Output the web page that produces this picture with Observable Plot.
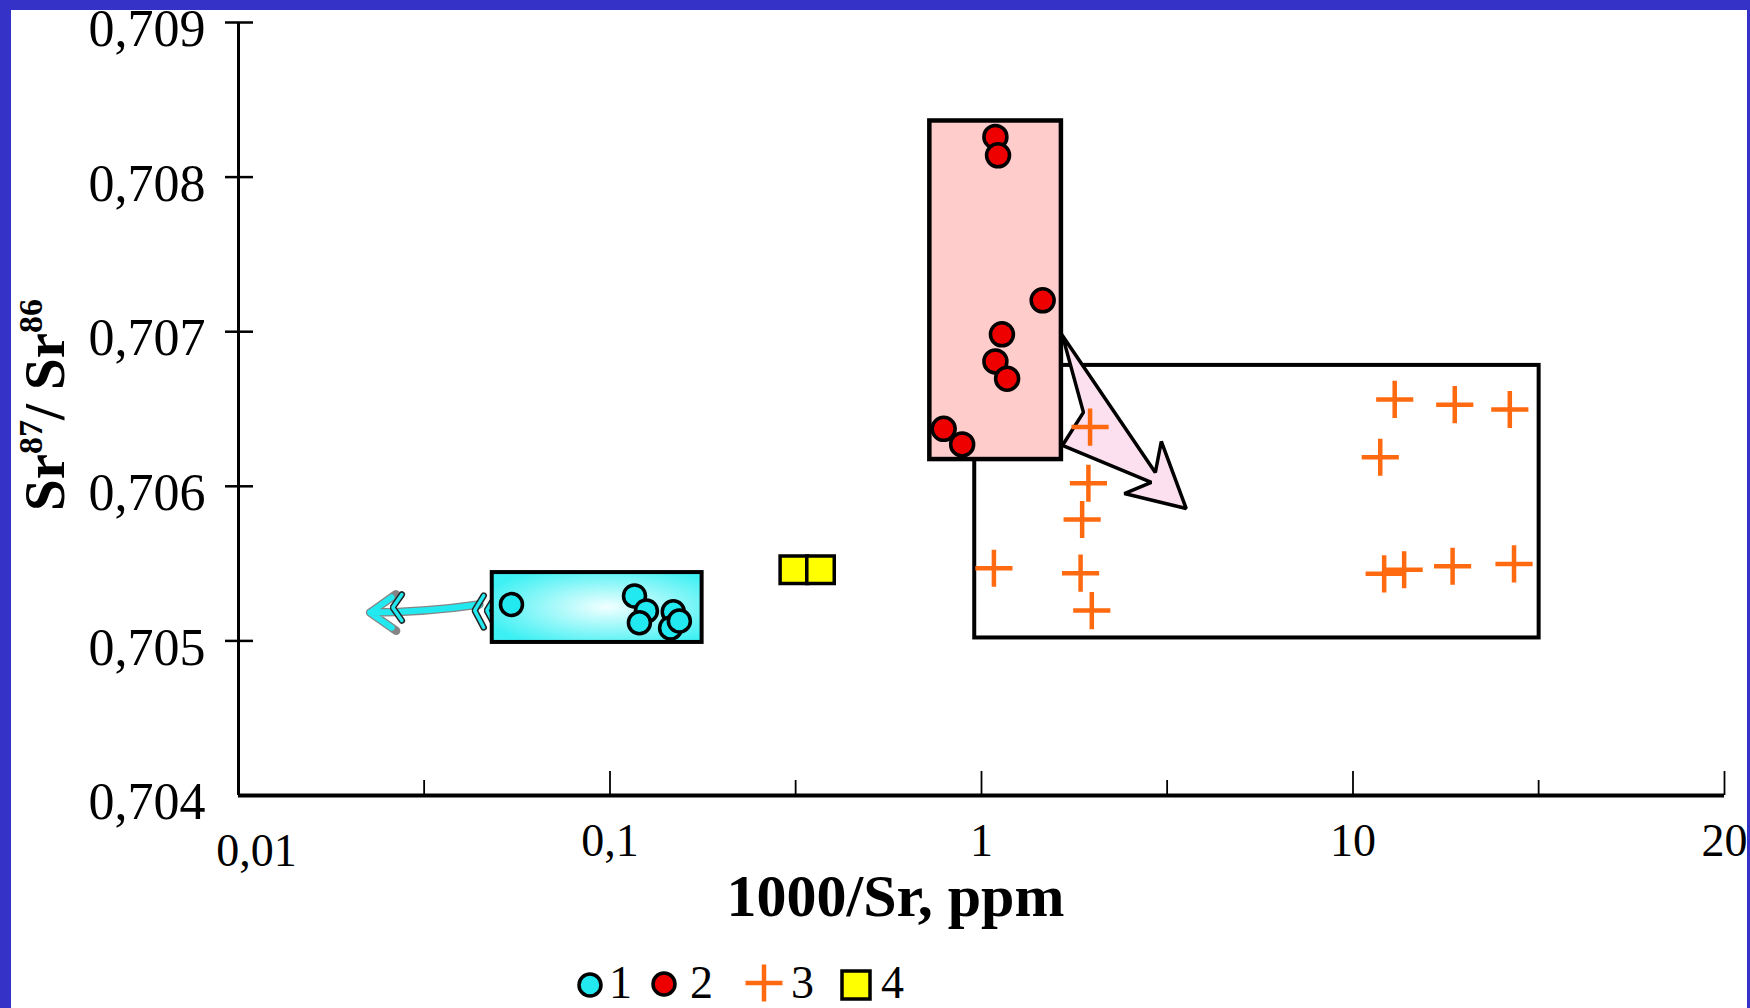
<!DOCTYPE html>
<html><head><meta charset="utf-8">
<script src="https://cdn.jsdelivr.net/npm/d3@7"></script>
<script src="https://cdn.jsdelivr.net/npm/@observablehq/plot@0.6"></script>
<style>
html,body{margin:0;padding:0;width:1750px;height:1008px;overflow:hidden;background:#3532c8;}
#panel{position:absolute;left:11px;top:10px;width:1736px;height:998px;background:#fff;overflow:visible;}
#chart{position:absolute;left:0;top:0;}
#legend{position:absolute;left:0;top:950px;}
</style></head><body>
<div id="panel"><div id="chart"></div><div id="legend"></div></div>
<script>
// ---- axis ticks ----
const yTicks = [0.704, 0.705, 0.706, 0.707, 0.708, 0.709];
const yTickLabels = ["0,704", "0,705", "0,706", "0,707", "0,708", "0,709"];
const xTicks = [0.1, 1, 10, 100];
const xTickLabels = ["0,1", "1", "10", "20"];
const xFirstTick = [0.01];
const xFirstTickLabel = ["0,01"];
const xMinorTicks = [0.0316, 0.316, 3.16, 31.6];

// ---- series 1 (cyan circles) ----
const s1x = [0.0543, 0.1164, 0.1253, 0.1200, 0.148, 0.1456, 0.1537];
const s1y = [0.705235, 0.705291, 0.705194, 0.705117, 0.705188, 0.705084, 0.705129];
// ---- series 2 (red circles) ----
const s2x = [1.090, 1.108, 1.461, 1.135, 1.090, 1.172, 0.791, 0.887];
const s2y = [0.70826, 0.708141, 0.707203, 0.706983, 0.706808, 0.706696, 0.706372, 0.706271];
// ---- series 3 (orange crosses) ----
const s3x = [1.960, 1.940, 1.866, 1.080, 1.848, 1.981, 12.95, 18.79, 26.43, 11.84, 12.13, 13.73, 18.54, 27.13];
const s3y = [0.706383, 0.70602, 0.705785, 0.70547, 0.705438, 0.705196, 0.706562, 0.706528, 0.706497, 0.706188, 0.705434, 0.70546, 0.705483, 0.705498];
// ---- series 4 (yellow squares) ----
const s4x = [0.3125, 0.3687];
const s4y = [0.70546, 0.70546];

// ---- field boxes (cyan, red, orange groups) ----
const boxGroup = ["1", "2", "3"];
const boxX1 = [0.0482, 0.726, 0.959];
const boxX2 = [0.177, 1.641, 31.7];
const boxY1 = [0.70499, 0.706173, 0.705019];
const boxY2 = [0.705442, 0.708363, 0.706782];

// ---- big pink arrow outline ----
const bigArrowX = [1.651, 2.937, 3.048, 3.557, 2.424, 2.865, 1.651, 1.881, 1.651];
const bigArrowY = [0.706976, 0.706089, 0.70629, 0.705856, 0.705953, 0.706025, 0.706264, 0.706478, 0.706976];

// ---- cyan arrow ----
const cyanArrowX1 = [0.0445];
const cyanArrowY1 = [0.705235];
const cyanArrowX2 = [0.0226];
const cyanArrowY2 = [0.705183];
const chevronGroup = [0, 0, 0, 1, 1, 1, 2, 2, 2];
const chevronX = [0.04571, 0.04322, 0.04571, 0.04932, 0.04661, 0.04932, 0.02752, 0.02601, 0.02752];
const chevronY = [0.705293, 0.705197, 0.705087, 0.705293, 0.705197, 0.705087, 0.7053, 0.705216, 0.705132];

// ---- legend ----
const legendLabels = ["1", "2", "3", "4"];

const cyan = "#22e8f0", red = "#ee0000", orange = "#ff6a10", yellow = "#ffff00";
const boxes = boxGroup.map((g, i) => ({g, x1: boxX1[i], x2: boxX2[i], y1: boxY1[i], y2: boxY2[i]}));
const pts = (xs, ys) => xs.map((x, i) => ({x, y: ys[i]}));
const bigArrow = pts(bigArrowX, bigArrowY);
const chevrons = chevronX.map((x, i) => ({x, y: chevronY[i], g: chevronGroup[i]}));
const cyanArrow = cyanArrowX1.map((x, i) => ({x1: x, y1: cyanArrowY1[i], x2: cyanArrowX2[i], y2: cyanArrowY2[i]}));
const serif = '"Liberation Serif", "Times New Roman", serif';

const chart = Plot.plot({
  width: 1736, height: 940,
  marginLeft: 227, marginRight: 23, marginTop: 12, marginBottom: 155,
  x: {type: "log", domain: [0.01, 100], axis: null},
  y: {domain: [0.704, 0.709], axis: null},
  style: {fontFamily: serif, background: "transparent", overflow: "visible", color: "black"},
  marks: [
    // cyan group
    Plot.arrow(cyanArrow, {x1: "x1", y1: "y1", x2: "x2", y2: "y2", stroke: "#333", strokeOpacity: 0.6, strokeWidth: 8.5, headLength: 5.6, headAngle: 70, bend: 4}),
    Plot.arrow(cyanArrow, {x1: "x1", y1: "y1", x2: "x2", y2: "y2", stroke: cyan, strokeWidth: 6, headLength: 6.6, headAngle: 70, bend: 4}),
    Plot.line(chevrons, {x: "x", y: "y", z: "g", stroke: "#222", strokeWidth: 6.5, strokeLinejoin: "miter"}),
    Plot.line(chevrons, {x: "x", y: "y", z: "g", stroke: cyan, strokeWidth: 3.5, strokeLinejoin: "miter"}),
    Plot.rect(boxes.filter(d => d.g === "1"), {x1: "x1", x2: "x2", y1: "y1", y2: "y2", fill: "url(#cyanGrad)", stroke: "black", strokeWidth: 4}),
    Plot.dot(pts(s1x, s1y), {x: "x", y: "y", r: 11, fill: cyan, stroke: "black", strokeWidth: 3.5}),
    // orange field box
    Plot.rect(boxes.filter(d => d.g === "3"), {x1: "x1", x2: "x2", y1: "y1", y2: "y2", fill: "white", stroke: "black", strokeWidth: 4}),
    // red field box
    Plot.rect(boxes.filter(d => d.g === "2"), {x1: "x1", x2: "x2", y1: "y1", y2: "y2", fill: "#ffcccc", stroke: "black", strokeWidth: 4.5}),
    // pink arrow
    Plot.line(bigArrow, {x: "x", y: "y", fill: "#fce0f0", stroke: "black", strokeWidth: 3.5, strokeLinejoin: "miter"}),
    // yellow squares
    Plot.dot(pts(s4x, s4y), {x: "x", y: "y", symbol: "square", r: 15.5, fill: yellow, stroke: "black", strokeWidth: 3.5}),
    // orange crosses
    Plot.dot(pts(s3x, s3y), {x: "x", y: "y", symbol: "plus", r: 12, stroke: orange, strokeWidth: 4.5}),
    // red circles
    Plot.dot(pts(s2x, s2y), {x: "x", y: "y", r: 11.5, fill: red, stroke: "black", strokeWidth: 3.5}),
    // axes lines
    Plot.ruleX([0.01], {x: d => d, y1: 0.704, y2: 0.709, stroke: "black", strokeWidth: 3}),
    Plot.ruleY([0.704], {y: d => d, x1: 0.01, x2: 100, stroke: "black", strokeWidth: 4}),
    // y ticks (crossing the axis)
    Plot.ruleY(yTicks.slice(1), {y: d => d, x1: 0.01, x2: 0.01, insetLeft: -13, insetRight: -15, stroke: "black", strokeWidth: 2.5}),
    // x ticks (inward)
    Plot.ruleX(xTicks, {x: d => d, y1: 0.704, y2: 0.704, insetTop: -24, stroke: "black", strokeWidth: 1.8}),
    Plot.ruleX(xMinorTicks, {x: d => d, y1: 0.704, y2: 0.704, insetTop: -15, stroke: "black", strokeWidth: 1.8}),
    // tick labels
    Plot.text(yTicks, {x: 0.01, y: d => d, text: (d, i) => yTickLabels[i], textAnchor: "end", dx: -33, dy: 7, fontSize: 52, fill: "black"}),
    Plot.text(xTicks, {x: d => d, text: (d, i) => xTickLabels[i], frameAnchor: "bottom", lineAnchor: "bottom", dy: 60, fontSize: 46, fill: "black"}),
    Plot.text(xFirstTick, {x: d => d, text: (d, i) => xFirstTickLabel[i], frameAnchor: "bottom", lineAnchor: "bottom", dx: 18, dy: 70, fontSize: 46, fill: "black"}),
    // axis titles
    Plot.text(["1000/Sr, ppm"], {text: d => d, frameAnchor: "bottom", lineAnchor: "bottom", dx: -86, dy: 120, fontSize: 60, fontWeight: "bold", fill: "black"}),
    Plot.text(["Sr87/ Sr86"], {text: d => d, frameAnchor: "left", textAnchor: "middle", lineAnchor: "bottom", rotate: -90, dx: -175, dy: -4, fontSize: 57, fontWeight: "bold", fill: "black"})
  ]
});

// gradient for the cyan field
const defs = d3.select(chart).insert("defs", ":first-child");
const grad = defs.append("radialGradient").attr("id", "cyanGrad").attr("cx", "55%").attr("cy", "50%").attr("r", "62%");
grad.append("stop").attr("offset", "0").attr("stop-color", "#f2ffff");
grad.append("stop").attr("offset", "1").attr("stop-color", "#3cf0f3");

// superscripts in the y title
d3.select(chart).selectAll("text").filter(function() { return this.textContent === "Sr87/ Sr86"; }).each(function() {
  const t = d3.select(this);
  t.text(null);
  t.append("tspan").text("Sr");
  t.append("tspan").attr("dy", "-22").attr("font-size", 34).text("87");
  t.append("tspan").attr("dy", "22").text("/ Sr");
  t.append("tspan").attr("dy", "-22").attr("font-size", 34).text("86");
});

document.getElementById("chart").appendChild(chart);

// legend (below the chart)
const lg = d3.select("#legend").append("svg").attr("width", 1736).attr("height", 46)
  .style("font-family", serif).style("overflow", "visible");
lg.append("circle").attr("cx", 579).attr("cy", 25).attr("r", 11).attr("fill", cyan).attr("stroke", "black").attr("stroke-width", 3.5);
lg.append("circle").attr("cx", 653).attr("cy", 24).attr("r", 11).attr("fill", red).attr("stroke", "black").attr("stroke-width", 3.5);
lg.append("path").attr("d", d3.symbol(d3.symbolPlus, 449)()).attr("transform", "translate(753,23)").attr("fill", "none").attr("stroke", orange).attr("stroke-width", 4.5);
lg.append("rect").attr("x", 831).attr("y", 11).attr("width", 28).attr("height", 28).attr("fill", yellow).attr("stroke", "black").attr("stroke-width", 3.5);
const legendTextX = [598, 679, 780, 870];
legendLabels.forEach((l, i) => {
  lg.append("text").attr("x", legendTextX[i]).attr("y", 38).attr("font-size", 46).attr("fill", "black").text(l);
});
</script>
</body></html>
